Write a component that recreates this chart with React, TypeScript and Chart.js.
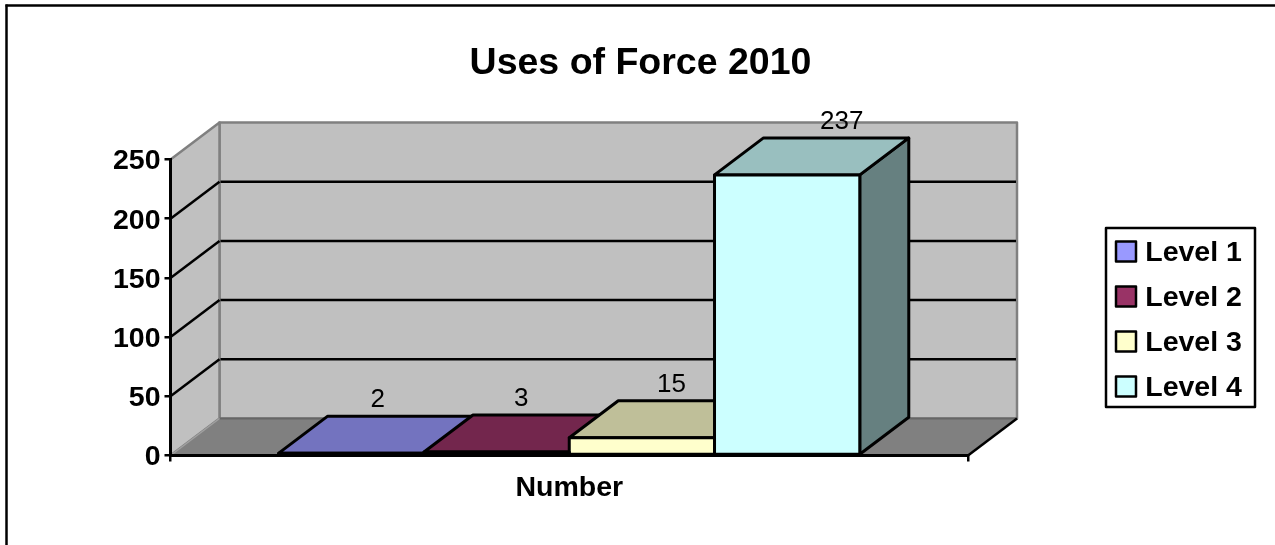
import React, { useEffect, useRef } from "react";
import { Chart, registerables } from "chart.js";

Chart.register(...registerables);

// ---- data ----
const categories = ["Number"];
const levelNames = ["Level 1", "Level 2", "Level 3", "Level 4"];
const levelValues = [2, 3, 15, 237];
const yMax = 250;
const yStep = 50;

// ---- styles ----
const faceColors = ["#9999FF", "#993366", "#FFFFCC", "#CCFFFF"];
const topColors = ["#7373BF", "#73264D", "#BFBF99", "#99BFBF"];
const sideColors = ["#4D4D80", "#4D1A33", "#808066", "#668080"];
const labelNudge = [2, 0, 5, 30];
const titleText = "Uses of Force 2010";
const FONT = "'Liberation Sans', Arial, sans-serif";
const DX = 49;
const DY = 37;
const W = 1275;
const H = 545;
const AREA = { left: 170.5, right: 968, top: 159.5, bottom: 455.5 };
const LEGEND = { x: 1106, y: 228, w: 149, h: 179, swatchX: 1116, textShift: 2, swatchSize: 20, rowStep: 45, firstCenter: 251.5, textCenter: 253.5 };

function poly(ctx: CanvasRenderingContext2D, pts: number[][], fill?: string | null, stroke?: string | null, lw = 2.5) {
  ctx.beginPath();
  pts.forEach((p, i) => (i ? ctx.lineTo(p[0], p[1]) : ctx.moveTo(p[0], p[1])));
  ctx.closePath();
  if (fill) {
    ctx.fillStyle = fill;
    ctx.fill();
  }
  if (stroke) {
    ctx.strokeStyle = stroke;
    ctx.lineWidth = lw;
    ctx.stroke();
  }
}

function seg(ctx: CanvasRenderingContext2D, x1: number, y1: number, x2: number, y2: number, color: string, lw: number) {
  ctx.beginPath();
  ctx.moveTo(x1, y1);
  ctx.lineTo(x2, y2);
  ctx.strokeStyle = color;
  ctx.lineWidth = lw;
  ctx.stroke();
}

const scene3d = {
  id: "scene3d",
  afterLayout(chart: any) {
    const legend = chart.legend;
    const pad = legend.options.labels.padding;
    const itemH = legend.options.labels.font.size;
    legend.left = LEGEND.swatchX + LEGEND.textShift - pad;
    legend.right = W;
    legend.width = legend.right - legend.left;
    legend.top = LEGEND.textCenter - itemH / 2 - pad;
    legend.bottom = legend.top + 220;
    legend.height = 220;
    chart.titleBlock.left = 6;
    chart.titleBlock.right = W;
    chart.titleBlock.width = W - 6;
  },
  beforeDraw(chart: any) {
    const { ctx, scales } = chart;
    const { x, y } = scales;
    const l = x.left;
    const r = x.right;
    const y0 = y.getPixelForValue(0);
    const yT = y.getPixelForValue(yMax);
    ctx.save();
    ctx.lineJoin = "round";
    ctx.fillStyle = "#FFFFFF";
    ctx.fillRect(0, 0, W, H);

    // outer frame
    seg(ctx, 6.5, 4.5, 6.5, H, "#000000", 2.5);
    seg(ctx, 5.5, 5.5, W, 5.5, "#000000", 2.5);

    // back wall, side wall, floor
    poly(ctx, [[l + DX, y0 - DY], [r + DX, y0 - DY], [r + DX, yT - DY], [l + DX, yT - DY]], "#C0C0C0", "#808080");
    poly(ctx, [[l, y0], [l + DX, y0 - DY], [l + DX, yT - DY], [l, yT]], "#C0C0C0", "#808080");
    poly(ctx, [[l, y0], [l + DX, y0 - DY], [r + DX, y0 - DY], [r, y0]], "#808080", null);
    seg(ctx, l + DX, y0 - DY, r + DX, y0 - DY, "#666666", 2);
    seg(ctx, l, y0, l + DX, y0 - DY, "#A0A0A0", 1.5);
    seg(ctx, r, y0, r + DX, y0 - DY, "#000000", 2.5);

    // value gridlines on both walls
    y.ticks.forEach((t: any) => {
      if (t.value <= 0 || t.value >= yMax) return;
      const py = y.getPixelForValue(t.value);
      seg(ctx, l, py, l + DX, py - DY, "#000000", 2.5);
      seg(ctx, l + DX + 1, py - DY, r + DX - 1, py - DY, "#000000", 2.5);
    });

    // legend box and swatches
    ctx.fillStyle = "#FFFFFF";
    ctx.fillRect(LEGEND.x, LEGEND.y, LEGEND.w, LEGEND.h);
    ctx.strokeStyle = "#000000";
    ctx.lineWidth = 2.5;
    ctx.strokeRect(LEGEND.x, LEGEND.y, LEGEND.w, LEGEND.h);
    levelNames.forEach((_, i) => {
      const c = LEGEND.firstCenter + i * LEGEND.rowStep;
      const s = LEGEND.swatchSize;
      ctx.fillStyle = faceColors[i];
      ctx.fillRect(LEGEND.swatchX, c - s / 2, s, s);
      ctx.strokeStyle = "#000000";
      ctx.lineWidth = 2.5;
      ctx.strokeRect(LEGEND.swatchX, c - s / 2, s, s);
    });
    ctx.restore();
  },
  beforeDatasetsDraw(chart: any) {
    const { ctx } = chart;
    ctx.save();
    ctx.lineJoin = "round";
    chart.data.datasets.forEach((_: any, i: number) => {
      const el = chart.getDatasetMeta(i).data[0];
      const { x, y, base, width } = el.getProps(["x", "y", "base", "width"], true);
      const x1 = x - width / 2;
      const x2 = x + width / 2;
      poly(ctx, [[x2, base], [x2 + DX, base - DY], [x2 + DX, y - DY], [x2, y]], sideColors[i], "#000000", 3);
      poly(ctx, [[x1, y], [x1 + DX, y - DY], [x2 + DX, y - DY], [x2, y]], topColors[i], "#000000", 3);
    });
    ctx.restore();
  },
  afterDatasetsDraw(chart: any) {
    const { ctx } = chart;
    ctx.save();
    ctx.lineJoin = "round";
    chart.data.datasets.forEach((ds: any, i: number) => {
      const el = chart.getDatasetMeta(i).data[0];
      const { x, y, base, width } = el.getProps(["x", "y", "base", "width"], true);
      const x1 = x - width / 2;
      const x2 = x + width / 2;
      poly(ctx, [[x1, y], [x2, y], [x2, base], [x1, base]], null, "#000000", 3);
      ctx.font = `26px ${FONT}`;
      ctx.fillStyle = "#000000";
      ctx.textAlign = "center";
      ctx.textBaseline = "middle";
      ctx.fillText(String(ds.data[0]), x + DX / 2 + labelNudge[i], y - DY - 16);
    });
    ctx.restore();
  },
};

export default function App() {
  const ref = useRef<HTMLCanvasElement | null>(null);
  useEffect(() => {
    const chart = new Chart(ref.current as HTMLCanvasElement, {
      type: "bar",
      data: {
        labels: categories,
        datasets: levelNames.map((name, i) => ({
          label: name,
          data: [levelValues[i]],
          backgroundColor: faceColors[i],
          borderColor: "#000000",
          borderWidth: 0,
          categoryPercentage: 0.7286,
          barPercentage: 1,
          clip: false,
        })),
      },
      options: {
        animation: false,
        responsive: false,
        devicePixelRatio: 1,
        layout: { padding: { left: 0, right: W - AREA.right, top: 0, bottom: 0 } },
        plugins: {
          tooltip: { enabled: false },
          title: {
            display: true,
            text: titleText,
            color: "#000000",
            font: { family: FONT, size: 37.5, weight: "bold", lineHeight: 1.2 },
            padding: { top: 41.5, bottom: AREA.top - 41.5 - 45 },
          },
          legend: {
            display: true,
            position: "chartArea",
            align: "start",
            labels: {
              color: "#000000",
              font: { family: FONT, size: 28.5, weight: "bold" },
              boxWidth: 13,
              padding: 16.5,
              generateLabels: (c: any) =>
                c.data.datasets.map((d: any, i: number) => ({
                  text: d.label,
                  fillStyle: "rgba(0,0,0,0)",
                  strokeStyle: "rgba(0,0,0,0)",
                  lineWidth: 0,
                  hidden: false,
                  datasetIndex: i,
                })),
            },
          },
        },
        scales: {
          x: {
            afterFit: (s: any) => {
              s.height = H - AREA.bottom;
            },
            border: { display: true, color: "#000000", width: 3 },
            grid: { display: true, offset: true, drawOnChartArea: false, drawTicks: true, tickLength: 6, color: "#000000", lineWidth: 2.5 },
            ticks: { color: "#000000", padding: 9.5, font: { family: FONT, size: 28.5, weight: "bold" } },
          },
          y: {
            min: 0,
            max: yMax,
            afterFit: (s: any) => {
              s.width = AREA.left;
            },
            border: { display: true, color: "#000000", width: 3 },
            grid: { display: true, drawOnChartArea: false, drawTicks: true, tickLength: 6, color: "#000000", lineWidth: 2.5 },
            ticks: { stepSize: yStep, color: "#000000", padding: 4, labelOffset: 2, font: { family: FONT, size: 28.5, weight: "bold" } },
          },
        },
      },
      plugins: [scene3d],
    } as any);
    return () => chart.destroy();
  }, []);
  return (
    <div style={{ position: "absolute", left: 0, top: 0, width: W, height: H }}>
      <canvas ref={ref} width={W} height={H} style={{ display: "block", width: W, height: H }} />
    </div>
  );
}
